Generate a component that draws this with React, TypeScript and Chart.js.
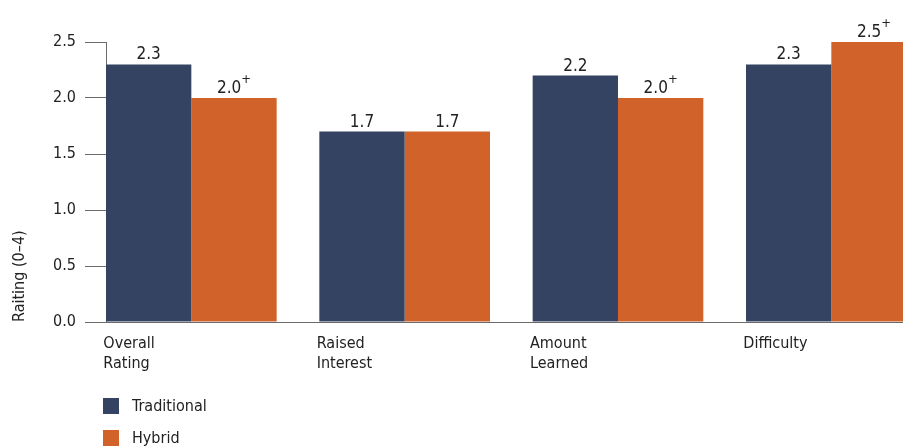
import React, { useEffect, useRef } from "react";
import { Chart, registerables } from "chart.js";

Chart.register(...registerables);

const categories: string[][] = [["Overall", "Rating"], ["Raised", "Interest"], ["Amount", "Learned"], ["Difficulty"]];
const traditional = [2.3, 1.7, 2.2, 2.3];
const hybrid = [2.0, 1.7, 2.0, 2.5];
const traditionalSig = [false, false, false, false];
const hybridSig = [true, false, true, true];
const yTicks = [0, 0.5, 1.0, 1.5, 2.0, 2.5];
const seriesNames = ["Traditional", "Hybrid"];
const seriesColors = ["#344362", "#D0622A"];
const yTitle = "Raiting (0–4)";

const FONT_FAMILY = '"Liberation Sans Narrow", "DejaVu Sans Condensed", "Arial Narrow", sans-serif';
const TEXT = "#222222";
const AXIS = "#6a6a6a";

const valueLabels = {
  id: "valueLabels",
  afterDatasetsDraw(chart: any) {
    const ctx = chart.ctx;
    const sigs = [traditionalSig, hybridSig];
    ctx.save();
    chart.data.datasets.forEach((ds: any, di: number) => {
      const meta = chart.getDatasetMeta(di);
      meta.data.forEach((bar: any, i: number) => {
        const val = ds.data[i] as number;
        const main = val.toFixed(1);
        const sig = sigs[di][i];
        ctx.font = `17px ${FONT_FAMILY}`;
        const w1 = ctx.measureText(main).width;
        ctx.font = `13px ${FONT_FAMILY}`;
        const w2 = sig ? ctx.measureText("+").width : 0;
        const total = w1 + w2;
        const x0 = bar.x - total / 2;
        const yb = bar.y - 5;
        ctx.fillStyle = TEXT;
        ctx.textAlign = "left";
        ctx.textBaseline = "alphabetic";
        ctx.font = `17px ${FONT_FAMILY}`;
        ctx.fillText(main, x0, yb);
        if (sig) {
          ctx.font = `13px ${FONT_FAMILY}`;
          ctx.fillText("+", x0 + w1, yb - 10);
        }
      });
    });
    ctx.restore();
  },
};

const bottomLegend = {
  id: "bottomLegend",
  afterDraw(chart: any) {
    const ctx = chart.ctx;
    ctx.save();
    chart.data.datasets.forEach((ds: any, i: number) => {
      const y = 398 + i * 32;
      ctx.fillStyle = ds.backgroundColor;
      ctx.fillRect(103, y, 16, 16);
      ctx.fillStyle = TEXT;
      ctx.font = `16px ${FONT_FAMILY}`;
      ctx.textAlign = "left";
      ctx.textBaseline = "middle";
      ctx.fillText(ds.label, 132, y + 9);
    });
    ctx.restore();
  },
};

export default function App() {
  const ref = useRef<HTMLCanvasElement | null>(null);

  useEffect(() => {
    document.body.style.margin = "0";
    const canvas = ref.current!;
    const chart = new Chart(canvas, {
      type: "bar",
      data: {
        labels: categories,
        datasets: [
          { label: seriesNames[0], data: traditional, backgroundColor: seriesColors[0], borderWidth: 0 },
          { label: seriesNames[1], data: hybrid, backgroundColor: seriesColors[1], borderWidth: 0 },
        ],
      },
      options: {
        animation: false,
        responsive: false,
        devicePixelRatio: 1,
        layout: { padding: { top: 42, left: 0, right: 0, bottom: 0 } },
        datasets: { bar: { categoryPercentage: 0.8, barPercentage: 1.0 } },
        plugins: { legend: { display: false }, tooltip: { enabled: false } },
        scales: {
          x: {
            type: "category",
            offset: false,
            grid: { display: false, drawTicks: false },
            border: { display: true, color: AXIS, width: 1 },
            ticks: {
              font: { family: FONT_FAMILY, size: 16, lineHeight: 1.25 },
              color: TEXT,
              align: "start",
              labelOffset: -88,
              padding: 12,
              maxRotation: 0,
              minRotation: 0,
              autoSkip: false,
            },
            afterFit: (s: any) => {
              s.height = 447 - 322;
              s.paddingLeft = 0;
              s.paddingRight = 0;
            },
            afterBuildTicks: (s: any) => {
              s.ticks = categories.map((_, i) => ({ value: i }));
              s._startValue = -0.4;
              s._valueRange = 3.736;
            },
          },
          y: {
            min: 0,
            max: 2.5,
            afterBuildTicks: (s: any) => {
              s.ticks = yTicks.map((v) => ({ value: v }));
            },
            afterFit: (s: any) => {
              s.width = 106;
            },
            grid: { drawOnChartArea: false, drawTicks: true, tickLength: 21, color: AXIS, lineWidth: 1 },
            border: { display: true, color: AXIS, width: 1 },
            ticks: {
              font: { family: FONT_FAMILY, size: 16 },
              color: TEXT,
              padding: 9,
              callback: (v: any) => Number(v).toFixed(1),
            },
            title: {
              display: true,
              text: yTitle,
              align: "start",
              color: TEXT,
              font: { family: FONT_FAMILY, size: 16, lineHeight: 1.25 },
              padding: { top: 10, bottom: 0 },
            },
          },
        },
      },
      plugins: [valueLabels, bottomLegend],
    } as any);
    return () => chart.destroy();
  }, []);

  return (
    <div style={{ width: 903, height: 447, position: "relative" }}>
      <canvas ref={ref} width={903} height={447} style={{ display: "block", width: 903, height: 447 }} />
    </div>
  );
}
